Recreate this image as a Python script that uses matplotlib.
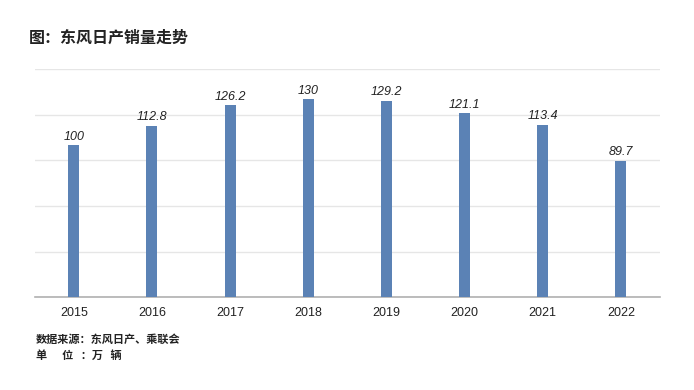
import matplotlib
matplotlib.use('Agg')
import matplotlib.pyplot as plt

plt.rcParams['font.family'] = ['Noto Sans CJK SC', 'DejaVu Sans']

# 数据
years = ['2015', '2016', '2017', '2018', '2019', '2020', '2021', '2022']
sales = [100, 112.8, 126.2, 130, 129.2, 121.1, 113.4, 89.7]
value_labels = ['100', '112.8', '126.2', '130', '129.2', '121.1', '113.4', '89.7']

fig = plt.figure(figsize=(6.94, 3.90), dpi=100)
ax = fig.add_axes([0.050, 0.238, 0.901, 0.585])

x = range(len(years))
ax.bar(x, sales, width=0.14, color='#5b82b5', zorder=3)

for i, (v, lab) in enumerate(zip(sales, value_labels)):
    ax.text(i, v + 1.5, lab, ha='center', va='bottom', fontsize=9,
            style='italic', family=['Liberation Sans', 'DejaVu Sans'], color='#222222')

ax.set_xlim(-0.5, 7.5)
ax.set_ylim(0, 150)
ax.set_yticks([0, 30, 60, 90, 120, 150])
ax.set_yticklabels([])
ax.tick_params(axis='y', length=0)
ax.tick_params(axis='x', length=0, pad=7)
ax.set_xticks(list(x))
ax.set_xticklabels(years, fontsize=9, family=['Liberation Sans', 'DejaVu Sans'], color='#222222')
ax.grid(axis='y', color='#e6e6e6', linewidth=1, zorder=0)
for s in ['top', 'right', 'left']:
    ax.spines[s].set_visible(False)
ax.spines['bottom'].set_color('#b0b0b0')
ax.spines['bottom'].set_linewidth(1.2)

fig.text(0.041, 0.89, '图：东风日产销量走势', fontsize=11.5, fontweight='bold', color='#222222')
fig.text(0.052, 0.122, '数据来源：东风日产、乘联会', fontsize=8, fontweight='bold', color='#222222')
fig.text(0.052, 0.079, '单      位   ：万   辆', fontsize=8, fontweight='bold', color='#222222')

fig.savefig('out.png', dpi=100)
